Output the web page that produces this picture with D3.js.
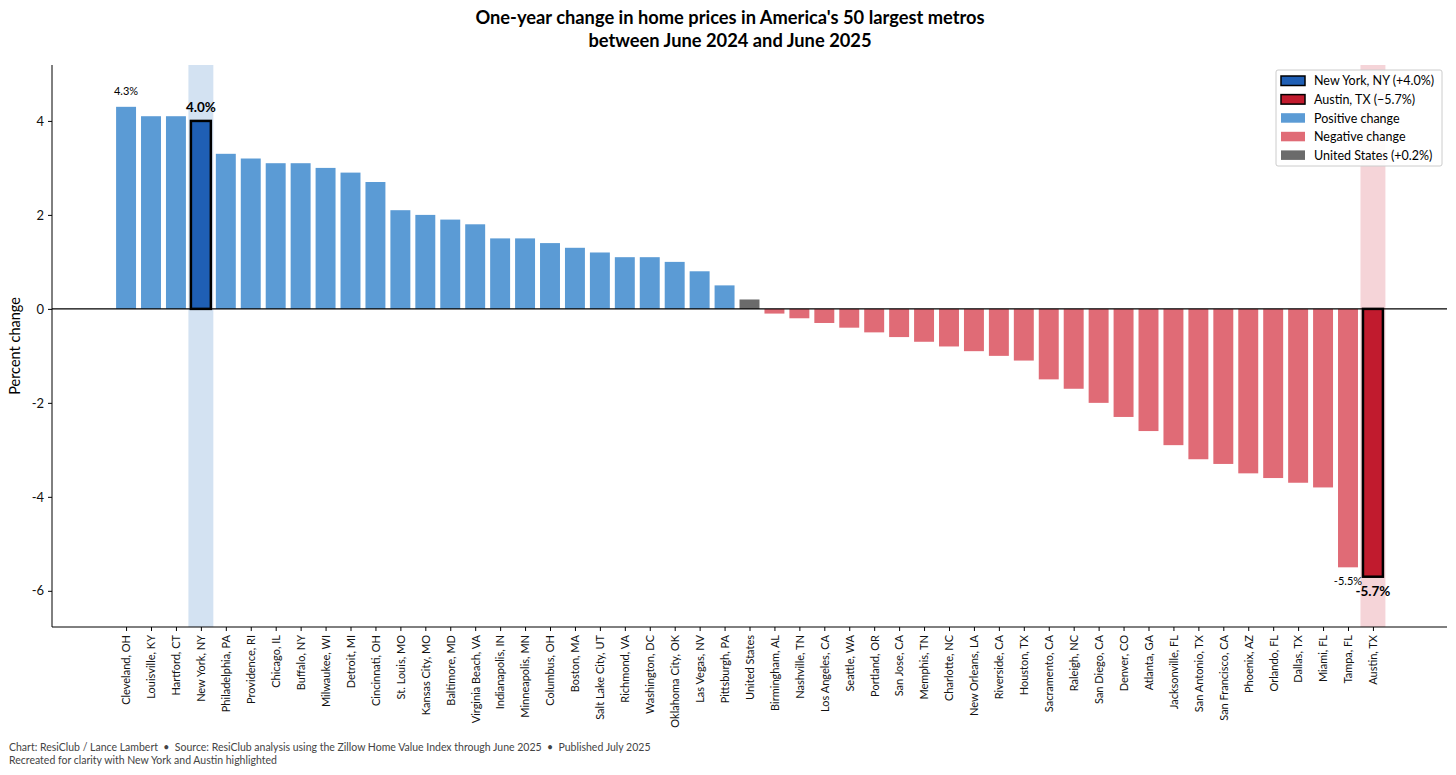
<!DOCTYPE html>
<html>
<head>
<meta charset="utf-8">
<script src="https://cdn.jsdelivr.net/npm/d3@7"></script>
<style>
  body { margin: 0; background: white; }
  text { font-family: "Source Sans Pro", Lato, "Noto Sans", sans-serif; }
</style>
</head>
<body>
<svg id="plot"></svg>
<script>
// metros, sorted by one-year change (percent)
const metros = ["Cleveland, OH", "Louisville, KY", "Hartford, CT", "New York, NY", "Philadelphia, PA",
  "Providence, RI", "Chicago, IL", "Buffalo, NY", "Milwaukee, WI", "Detroit, MI", "Cincinnati, OH",
  "St. Louis, MO", "Kansas City, MO", "Baltimore, MD", "Virginia Beach, VA", "Indianapolis, IN",
  "Minneapolis, MN", "Columbus, OH", "Boston, MA", "Salt Lake City, UT", "Richmond, VA",
  "Washington, DC", "Oklahoma City, OK", "Las Vegas, NV", "Pittsburgh, PA", "United States",
  "Birmingham, AL", "Nashville, TN", "Los Angeles, CA", "Seattle, WA", "Portland, OR",
  "San Jose, CA", "Memphis, TN", "Charlotte, NC", "New Orleans, LA", "Riverside, CA",
  "Houston, TX", "Sacramento, CA", "Raleigh, NC", "San Diego, CA", "Denver, CO", "Atlanta, GA",
  "Jacksonville, FL", "San Antonio, TX", "San Francisco, CA", "Phoenix, AZ", "Orlando, FL",
  "Dallas, TX", "Miami, FL", "Tampa, FL", "Austin, TX"];
const changes = [4.3, 4.1, 4.1, 4.0, 3.3, 3.2, 3.1, 3.1, 3.0, 2.9, 2.7, 2.1, 2.0, 1.9, 1.8, 1.5,
  1.5, 1.4, 1.3, 1.2, 1.1, 1.1, 1.0, 0.8, 0.5, 0.2, -0.1, -0.2, -0.3, -0.4, -0.5, -0.6, -0.7,
  -0.8, -0.9, -1.0, -1.1, -1.5, -1.7, -2.0, -2.3, -2.6, -2.9, -3.2, -3.3, -3.5, -3.6, -3.7,
  -3.8, -5.5, -5.7];
const yTicks = [-6, -4, -2, 0, 2, 4];
const highlights = ["New York, NY", "Austin, TX"];
const legendItems = ["New York, NY (+4.0%)", "Austin, TX (\u22125.7%)", "Positive change",
  "Negative change", "United States (+0.2%)"];

const data = metros.map((m, i) => ({ name: m, value: changes[i], i: i }));

let width = 1456, height = 775;
let margin = { top: 65, bottom: 148, left: 52, right: 9 };

const colors = {
  pos: "#5b9bd5", neg: "#e06b76", us: "#6b6b6b",
  ny: "#1f5fb5", austin: "#c11b2e",
  nySpan: "#d3e2f2", austinSpan: "#f5d4d8"
};
function barColor(d) {
  if (d.name === "New York, NY") return colors.ny;
  if (d.name === "Austin, TX") return colors.austin;
  if (d.name === "United States") return colors.us;
  return d.value >= 0 ? colors.pos : colors.neg;
}

let svg = d3.select('#plot')
  .attr('width', width)
  .attr('height', height)
  .style('background', 'white');

// continuous x over bar index, like matplotlib margins
let xScale = d3.scaleLinear()
  .domain([-2.97, data.length - 1 + 2.97])
  .range([margin.left, width - margin.right]);
let bw = xScale(0.8) - xScale(0);

let yScale = d3.scaleLinear()
  .domain([-6.77, 5.19])
  .range([height - margin.bottom, margin.top]);

// highlight spans behind bars
svg.selectAll('rect.span')
  .data(data.filter(d => highlights.includes(d.name)))
  .enter()
  .append('rect')
  .attr('class', 'span')
  .attr('x', d => xScale(d.i - 0.5))
  .attr('width', xScale(1) - xScale(0))
  .attr('y', margin.top)
  .attr('height', height - margin.bottom - margin.top)
  .attr('fill', d => d.name === "New York, NY" ? colors.nySpan : colors.austinSpan);

// bars
svg.selectAll('rect.bar')
  .data(data)
  .enter()
  .append('rect')
  .attr('class', 'bar')
  .attr('x', d => xScale(d.i - 0.4))
  .attr('width', bw)
  .attr('y', d => yScale(Math.max(0, d.value)))
  .attr('height', d => Math.abs(yScale(d.value) - yScale(0)))
  .attr('fill', d => barColor(d))
  .attr('stroke', d => highlights.includes(d.name) ? 'black' : 'none')
  .attr('stroke-width', 2.5);

// zero line
svg.append('line')
  .attr('x1', margin.left).attr('x2', width - margin.right)
  .attr('y1', yScale(0)).attr('y2', yScale(0))
  .attr('stroke', 'black').attr('stroke-width', 1.2);

// axes
let yAxis = svg.append('g')
  .attr('transform', `translate(${margin.left}, 0)`)
  .call(d3.axisLeft(yScale).tickValues(yTicks).tickSize(4).tickPadding(4)
    .tickFormat(d => d < 0 ? "-" + Math.abs(d) : d));
yAxis.select('.domain').attr('d', `M0,${margin.top}V${height - margin.bottom}`);
yAxis.selectAll('text').style('font-size', '13px').attr('fill', '#111');

let xAxis = svg.append('g')
  .attr('transform', `translate(0, ${height - margin.bottom})`)
  .call(d3.axisBottom(xScale).tickValues(data.map(d => d.i)).tickSize(4)
    .tickFormat(i => metros[i]));
xAxis.select('.domain').attr('d', `M${margin.left},0H${width - margin.right}`);
xAxis.selectAll('text')
  .style('font-size', '11px')
  .attr('fill', '#111')
  .attr('text-anchor', 'end')
  .attr('transform', 'rotate(-90)')
  .attr('x', -8)
  .attr('y', 0)
  .attr('dy', '0.35em');

// value labels
const labelled = [
  { name: "Cleveland, OH", text: "4.3%", bold: false },
  { name: "New York, NY", text: "4.0%", bold: true },
  { name: "Tampa, FL", text: "-5.5%", bold: false },
  { name: "Austin, TX", text: "-5.7%", bold: true }
];
labelled.forEach(l => {
  let d = data.find(e => e.name === l.name);
  let off = d.value >= 0 ? (l.bold ? -9 : -12) : (l.bold ? 19 : 18);
  svg.append('text')
    .attr('x', xScale(d.i))
    .attr('y', yScale(d.value) + off)
    .attr('text-anchor', 'middle')
    .style('font-size', l.bold ? '13.5px' : '11px')
    .style('font-weight', l.bold ? 'bold' : 'normal')
    .text(l.text);
});

// y label
svg.append('text')
  .attr('transform', `translate(20, ${(margin.top + height - margin.bottom) / 2}) rotate(-90)`)
  .attr('text-anchor', 'middle')
  .style('font-size', '14.5px')
  .text('Percent change');

// title
svg.append('text')
  .attr('x', width / 2 + 2).attr('y', 24)
  .attr('text-anchor', 'middle')
  .style('font-size', '18.3px').style('font-weight', 'bold')
  .text("One-year change in home prices in America's 50 largest metros");
svg.append('text')
  .attr('x', width / 2 + 2).attr('y', 47)
  .attr('text-anchor', 'middle')
  .style('font-size', '18.3px').style('font-weight', 'bold')
  .text("between June 2024 and June 2025");

// legend
let legend = svg.append('g').attr('transform', 'translate(1276, 70)');
legend.append('rect')
  .attr('width', 166).attr('height', 96).attr('rx', 2)
  .attr('fill', 'white').attr('fill-opacity', 0.9)
  .attr('stroke', '#cccccc');
const legendColors = [colors.ny, colors.austin, colors.pos, colors.neg, colors.us];
legendItems.forEach((t, k) => {
  let g = legend.append('g').attr('transform', `translate(5, ${6 + k * 18.6})`);
  g.append('rect')
    .attr('width', 24).attr('height', 9.5)
    .attr('fill', legendColors[k])
    .attr('stroke', k < 2 ? 'black' : 'none')
    .attr('stroke-width', 1.5);
  g.append('text')
    .attr('x', 33).attr('y', 5).attr('dy', '0.35em')
    .style('font-size', '12.5px')
    .text(t);
});

// footer
svg.append('text')
  .attr('x', 9).attr('y', 751)
  .style('font-size', '10.5px').style('white-space', 'pre').attr('fill', '#444')
  .text("Chart: ResiClub / Lance Lambert  \u2022  Source: ResiClub analysis using the Zillow Home Value Index through June 2025  \u2022  Published July 2025");
svg.append('text')
  .attr('x', 9).attr('y', 764)
  .style('font-size', '10.5px').attr('fill', '#444')
  .text("Recreated for clarity with New York and Austin highlighted");
</script>
</body>
</html>
